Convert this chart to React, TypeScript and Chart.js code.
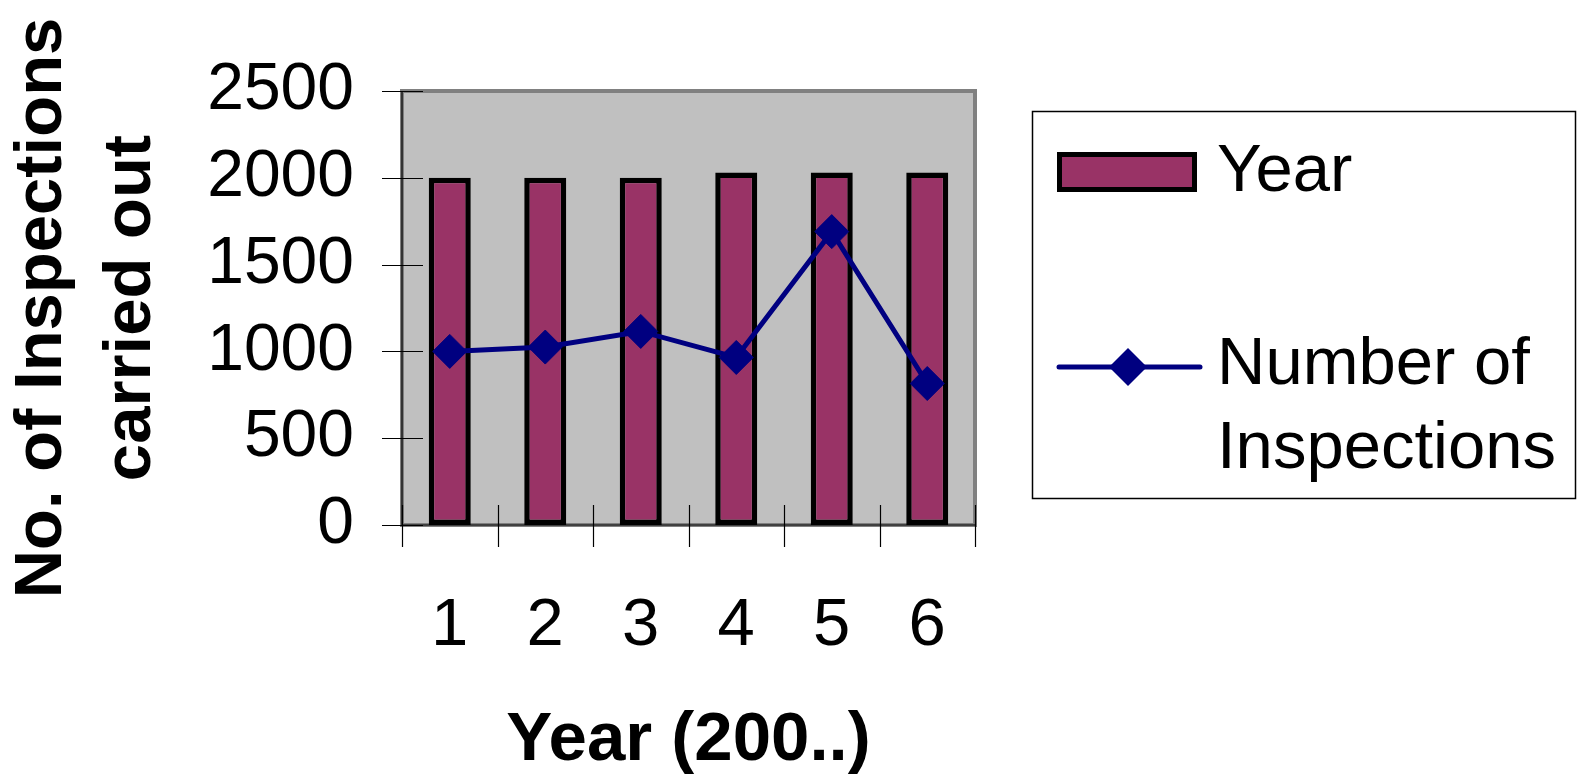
import React, { useEffect, useRef } from "react";
import { Chart, registerables } from "chart.js";

Chart.register(...registerables);

const CATEGORIES = ["1", "2", "3", "4", "5", "6"];
const YEAR_VALUES = [2000, 2000, 2000, 2030, 2030, 2030];
const INSPECTIONS = [1000, 1025, 1115, 965, 1690, 815];
const Y_TICKS = [0, 500, 1000, 1500, 2000, 2500];
const Y_TITLE = ["No. of Inspections", "carried out"];
const X_TITLE = "Year (200..)";
const BAR_LABEL = "Year";
const LINE_LABEL_LINES = ["Number of", "Inspections"];

const FONT = "'Liberation Sans', Arial, Helvetica, sans-serif";
const BAR_FILL = "#993366";
const LINE_COLOR = "#000080";

const plotDecor = {
  id: "plotDecor",
  beforeDatasetsDraw(chart: any) {
    const { ctx, chartArea: a, scales } = chart;
    ctx.save();
    ctx.fillStyle = "#C0C0C0";
    ctx.fillRect(a.left, a.top, a.right - a.left, a.bottom - a.top);
    ctx.strokeStyle = "#808080";
    ctx.lineWidth = 4;
    ctx.strokeRect(a.left, a.top, a.right - a.left, a.bottom - a.top);
    ctx.strokeStyle = "#000";
    ctx.lineWidth = 1.2;
    ctx.beginPath();
    ctx.moveTo(a.left, a.top);
    ctx.lineTo(a.left, a.bottom);
    ctx.lineTo(a.right, a.bottom);
    ctx.stroke();
    scales.y.ticks.forEach((t: any) => {
      const py = Math.round(scales.y.getPixelForValue(t.value)) + 0.5;
      ctx.beginPath();
      ctx.moveTo(a.left - 20, py);
      ctx.lineTo(a.left + 21, py);
      ctx.stroke();
    });
    for (let i = 0; i <= CATEGORIES.length; i++) {
      const px = Math.round(scales.x.getPixelForValue(i - 0.5)) + 0.5;
      ctx.beginPath();
      ctx.moveTo(px, a.bottom - 20);
      ctx.lineTo(px, a.bottom + 22);
      ctx.stroke();
    }
    ctx.restore();
  },
};

const customLegend = {
  id: "customLegend",
  afterDraw(chart: any) {
    const { ctx } = chart;
    const bar = chart.data.datasets[1];
    const line = chart.data.datasets[0];
    ctx.save();
    ctx.strokeStyle = "#000";
    ctx.lineWidth = 1.5;
    ctx.strokeRect(1032.5, 111.5, 543, 387);
    ctx.fillStyle = bar.backgroundColor;
    ctx.fillRect(1057, 152, 140, 40);
    ctx.strokeStyle = bar.borderColor;
    ctx.lineWidth = 5;
    ctx.strokeRect(1059.5, 154.5, 135, 35);
    ctx.strokeStyle = line.borderColor;
    ctx.lineWidth = 5;
    ctx.lineCap = "round";
    ctx.beginPath();
    ctx.moveTo(1059, 367);
    ctx.lineTo(1200, 367);
    ctx.stroke();
    ctx.fillStyle = line.borderColor;
    ctx.beginPath();
    const cx = 1128, cy = 367, r = 19;
    ctx.moveTo(cx - r, cy);
    ctx.lineTo(cx, cy - r);
    ctx.lineTo(cx + r, cy);
    ctx.lineTo(cx, cy + r);
    ctx.closePath();
    ctx.fill();
    ctx.fillStyle = "#000";
    ctx.font = `67px ${FONT}`;
    ctx.textAlign = "left";
    ctx.textBaseline = "alphabetic";
    ctx.fillText(bar.label, 1217, 191);
    LINE_LABEL_LINES.forEach((s, i) => ctx.fillText(s, 1217, 384 + i * 84));
    ctx.restore();
  },
};

export default function App() {
  const canvasRef = useRef<HTMLCanvasElement | null>(null);

  useEffect(() => {
    if (!canvasRef.current) return;
    Chart.defaults.font.family = FONT;
    const chart = new Chart(canvasRef.current, {
      type: "bar",
      data: {
        labels: CATEGORIES,
        datasets: [
          {
            type: "line",
            label: LINE_LABEL_LINES.join(" "),
            data: INSPECTIONS,
            borderColor: LINE_COLOR,
            backgroundColor: LINE_COLOR,
            borderWidth: 5,
            pointStyle: "rectRot",
            pointRadius: 17,
            pointBackgroundColor: LINE_COLOR,
            pointBorderColor: LINE_COLOR,
            pointBorderWidth: 1,
            tension: 0,
            order: 0,
          } as any,
          {
            type: "bar",
            label: BAR_LABEL,
            data: YEAR_VALUES,
            backgroundColor: BAR_FILL,
            borderColor: "#000000",
            borderWidth: 5.5,
            borderSkipped: false,
            barPercentage: 0.44,
            categoryPercentage: 1,
            order: 1,
          } as any,
        ],
      },
      options: {
        animation: false,
        responsive: true,
        maintainAspectRatio: false,
        layout: { padding: { top: 91, right: 602, left: 0, bottom: 0 } },
        plugins: {
          legend: { display: false },
          tooltip: { enabled: false },
        },
        scales: {
          x: {
            offset: true,
            grid: { display: false, drawTicks: false },
            border: { display: false },
            ticks: {
              color: "#000",
              padding: 61,
              font: { size: 67, family: FONT, lineHeight: 1.2 },
              maxRotation: 0,
            },
            title: {
              display: true,
              text: X_TITLE,
              color: "#000",
              padding: 0,
              font: { size: 69, weight: "bold", family: FONT, lineHeight: 1.12 },
            },
            afterFit(scale: any) {
              scale.height = 255;
            },
          },
          y: {
            min: 0,
            max: 2500,
            grid: { display: false, drawTicks: false },
            border: { display: false },
            ticks: {
              color: "#000",
              padding: 48,
              font: { size: 66, family: FONT },
              callback: (v: any) => String(v),
            },
            afterBuildTicks(scale: any) {
              scale.ticks = Y_TICKS.map((v) => ({ value: v }));
            },
            title: {
              display: true,
              text: Y_TITLE,
              color: "#000",
              padding: { top: -2, bottom: 0 },
              font: { size: 67, weight: "bold", family: FONT, lineHeight: 1.33 },
            },
            afterFit(scale: any) {
              scale.width = 402;
            },
          },
        },
      },
      plugins: [plotDecor, customLegend],
    });
    return () => chart.destroy();
  }, []);

  return (
    <div style={{ position: "fixed", left: 0, top: 0, width: 1577, height: 780, background: "#fff" }}>
      <canvas ref={canvasRef} />
    </div>
  );
}
